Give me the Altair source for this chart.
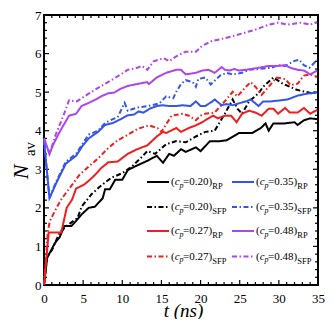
import altair as alt
import pandas as pd

# ---------------- data ----------------
SERIES = ["0.20 RP", "0.20 SFP", "0.27 RP", "0.27 SFP",
          "0.35 RP", "0.35 SFP", "0.48 RP", "0.48 SFP"]
CP_TEXT = ["=0.20)", "=0.20)", "=0.27)", "=0.27)", "=0.35)", "=0.35)", "=0.48)", "=0.48)"]
KIND = ["RP", "SFP", "RP", "SFP", "RP", "SFP", "RP", "SFP"]
COLORS = ["#000000", "#000000", "#F01E1E", "#F01E1E",
          "#3355EE", "#3355EE", "#B044F0", "#B044F0"]

t_020_rp = [0, 0.4, 0.75, 1.4, 2.0, 2.6, 3.5, 4.1, 4.8, 5.7, 6.5, 7.5, 7.8, 8.4, 9.1, 10.0, 10.7, 11.9,
            13.2, 14.4, 15.2, 16.0, 16.6, 17.5, 18.1, 19.4, 20.0, 21.2, 22.5, 23.3, 24.9, 26.6, 27.7,
            28.3, 28.7, 29.3, 30.8, 32.0, 32.4, 33.2, 34.0, 34.9]
n_020_rp = [0, 0.7, 0.84, 1.09, 1.24, 1.53, 1.53, 1.66, 1.83, 2.0, 2.03, 2.25, 2.48, 2.48, 2.73, 2.73,
            2.98, 3.1, 3.22, 3.35, 3.17, 3.4, 3.35, 3.52, 3.45, 3.57, 3.47, 3.73, 3.73, 3.75, 3.94,
            3.94, 4.07, 4.19, 4.0, 4.19, 4.19, 4.22, 4.15, 4.27, 4.32, 4.3]

t_020_sfp = [0, 0.4, 1.0, 2.0, 2.9, 4.3, 4.8, 6.1, 7.3, 8.6, 10.0, 11.2, 12.5, 13.2, 14.2, 15.6, 16.9,
             18.1, 19.4, 20.6, 21.8, 23.1, 24.1, 24.7, 25.3, 26.2, 27.4, 28.0, 29.3, 30.5, 32.3, 34.2, 34.9]
n_020_sfp = [0, 0.74, 0.9, 1.36, 1.53, 1.74, 2.03, 2.36, 2.58, 2.78, 2.9, 3.07, 3.32, 3.47, 3.4, 3.65,
             3.73, 3.7, 3.85, 3.97, 4.0, 4.44, 4.81, 4.57, 4.44, 4.76, 4.97, 5.14, 5.38, 5.22, 5.06,
             4.97, 5.0]

t_027_rp = [0, 0.6, 2.2, 2.9, 3.6, 4.1, 5.1, 5.7, 6.5, 7.3, 8.2, 9.4, 10.7, 11.9, 13.2, 14.4, 15.2, 15.6,
            16.9, 17.5, 18.5, 19.4, 20.2, 21.0, 21.6, 22.2, 23.1, 23.9, 24.6, 25.3, 26.2, 27.0, 27.8,
            28.7, 29.3, 29.9, 30.8, 31.4, 32.4, 33.2, 34.0, 34.9]
n_027_rp = [0, 1.36, 1.36, 2.0, 2.22, 2.5, 2.6, 2.7, 2.85, 3.03, 3.18, 3.2, 3.4, 3.52, 3.62, 3.85, 3.97,
            3.94, 4.07, 3.97, 4.07, 4.14, 4.22, 4.32, 4.39, 4.32, 4.39, 4.39, 4.22, 4.44, 4.52, 4.47,
            4.39, 4.57, 4.57, 4.44, 4.59, 4.47, 4.47, 4.59, 4.44, 4.54]

t_027_sfp = [0, 0.5, 0.75, 1.6, 2.3, 3.6, 4.5, 5.7, 7.0, 8.2, 9.4, 10.5, 12.0, 13.4, 14.5, 15.0, 16.3,
             17.7, 18.5, 19.4, 20.0, 20.6, 21.8, 23.3, 24.1, 24.7, 25.8, 26.4, 27.0, 27.8, 28.7, 29.7,
             30.8, 31.5, 32.4, 33.2, 34.0, 34.9]
n_027_sfp = [0, 1.4, 1.66, 2.0, 2.25, 2.6, 2.85, 3.07, 3.3, 3.55, 3.75, 3.87, 4.05, 4.14, 4.07, 3.97,
             4.39, 4.44, 4.39, 4.27, 4.39, 4.44, 4.47, 4.81, 5.01, 4.89, 5.14, 5.26, 5.14, 4.93, 5.14,
             5.38, 5.34, 5.18, 5.22, 5.43, 5.46, 5.4]

t_035_rp = [0, 0.7, 1.6, 2.8, 4.1, 4.9, 5.7, 6.9, 7.8, 8.8, 9.8, 10.7, 11.5, 12.1, 12.7, 13.5, 14.4,
            15.2, 16.0, 16.9, 17.7, 18.7, 19.4, 20.0, 20.6, 21.5, 21.8, 22.7, 23.3, 24.1, 24.9, 25.8,
            26.4, 27.0, 27.4, 28.0, 29.0, 30.3, 31.1, 32.4, 33.6, 34.9]
n_035_rp = [3.75, 2.25, 2.66, 3.15, 3.35, 3.6, 3.8, 3.97, 4.15, 4.2, 4.3, 4.4, 4.42, 4.5, 4.47, 4.57,
            4.64, 4.66, 4.64, 4.64, 4.66, 4.64, 4.76, 4.64, 4.64, 4.76, 4.81, 4.66, 4.69, 4.66, 4.71,
            4.76, 4.81, 4.71, 4.64, 4.76, 4.76, 4.79, 4.81, 4.91, 4.96, 4.99]

t_035_sfp = [0, 0.7, 1.6, 2.8, 4.1, 4.9, 5.7, 6.9, 7.8, 8.8, 9.4, 10.3, 10.7, 11.9, 13.2, 14.4, 14.8,
             15.6, 16.5, 16.9, 17.5, 18.1, 19.0, 19.4, 19.7, 20.6, 21.3, 22.5, 23.3, 24.1, 25.3, 26.2,
             27.4, 29.0, 29.9, 30.8, 32.0, 32.6, 33.2, 33.9, 34.9]
n_035_sfp = [3.75, 2.25, 2.7, 3.2, 3.4, 3.65, 3.9, 4.0, 4.2, 4.3, 4.35, 4.72, 4.52, 4.6, 4.64, 4.69,
             4.72, 4.89, 4.84, 5.01, 5.21, 5.31, 5.26, 5.14, 5.34, 5.38, 5.2, 5.43, 5.5, 5.46, 5.5,
             5.58, 5.6, 5.63, 5.7, 5.68, 5.81, 5.84, 5.7, 5.63, 5.84]

t_048_rp = [0, 0.7, 1.2, 2.0, 3.2, 4.1, 4.8, 5.7, 6.5, 7.4, 8.2, 9.0, 9.8, 10.7, 11.9, 13.2, 13.4, 14.4,
            15.6, 16.9, 17.5, 18.1, 19.4, 20.2, 21.0, 21.8, 22.7, 23.1, 23.7, 24.3, 24.9, 25.8, 27.4,
            28.7, 29.9, 30.8, 31.5, 32.4, 33.2, 34.0, 34.9]
n_048_rp = [3.8, 3.4, 3.65, 3.97, 4.39, 4.44, 4.64, 4.72, 4.8, 4.9, 4.97, 4.99, 5.09, 5.16, 5.21, 5.26,
            5.21, 5.38, 5.5, 5.58, 5.58, 5.46, 5.5, 5.56, 5.58, 5.5, 5.65, 5.58, 5.56, 5.6, 5.56, 5.58,
            5.63, 5.68, 5.68, 5.7, 5.63, 5.58, 5.56, 5.46, 5.56]

t_048_sfp = [0, 0.7, 1.5, 2.5, 3.2, 4.2, 5.7, 7.3, 8.6, 9.8, 10.7, 11.9, 12.5, 13.2, 14.0, 15.3, 16.0,
             16.9, 18.1, 19.4, 20.2, 21.5, 22.7, 24.1, 25.8, 27.0, 28.7, 29.9, 31.1, 32.8, 34.0, 34.9]
n_048_sfp = [3.8, 3.4, 3.9, 4.4, 4.79, 4.76, 4.96, 5.16, 5.31, 5.46, 5.58, 5.63, 5.68, 5.58, 5.8, 5.88,
             5.8, 5.93, 6.05, 6.05, 6.2, 6.33, 6.38, 6.45, 6.55, 6.62, 6.75, 6.8, 6.75, 6.8, 6.75, 6.82]

X_TICKS = [0, 5, 10, 15, 20, 25, 30, 35]
Y_TICKS = [0, 1, 2, 3, 4, 5, 6, 7]

# ---------------- build tables ----------------
pairs = [(t_020_rp, n_020_rp), (t_020_sfp, n_020_sfp), (t_027_rp, n_027_rp), (t_027_sfp, n_027_sfp),
         (t_035_rp, n_035_rp), (t_035_sfp, n_035_sfp), (t_048_rp, n_048_rp), (t_048_sfp, n_048_sfp)]
rows = []
for name, (ts, ns) in zip(SERIES, pairs):
    for t, n in zip(ts, ns):
        rows.append({"series": name, "t": t, "n": n})
df = pd.DataFrame(rows)

W, H = 274, 270
FONT = "Liberation Serif"
DASHES = [[1, 0], [5, 2.5, 1.5, 2.5]] * 4

xs = alt.Scale(domain=[0, 35], nice=False, zero=False)
ys = alt.Scale(domain=[0, 7], nice=False, zero=False)
cscale = alt.Scale(domain=SERIES, range=COLORS)
dscale = alt.Scale(domain=SERIES, range=DASHES)

lines = alt.Chart(df).mark_line(strokeWidth=2).encode(
    x=alt.X("t:Q", scale=xs, axis=alt.Axis(
        values=X_TICKS, ticks=False, domain=False, grid=False, labelFont=FONT, labelFontSize=13,
        labelColor="black", labelPadding=7, labelFlush=False, labelOverlap=False,
        title="t (ns)", titleFont=FONT, titleFontSize=19, titleFontStyle="italic",
        titleFontWeight="normal", titleColor="black", titleY=31, titleBaseline="alphabetic",
        titleX=139, titleAlign="center")),
    y=alt.Y("n:Q", scale=ys, axis=alt.Axis(
        values=Y_TICKS, ticks=False, domain=False, grid=False, labelFont=FONT, labelFontSize=13,
        labelColor="black", labelPadding=3, labelFlush=False, labelOverlap=False, title=None)),
    color=alt.Color("series:N", scale=cscale, legend=None),
    strokeDash=alt.StrokeDash("series:N", scale=dscale, legend=None),
)

# ---------------- inward ticks on all four sides ----------------
x_major = pd.DataFrame({"v": X_TICKS})
x_minor = pd.DataFrame({"v": [i for i in range(36) if i % 5]})
y_major = pd.DataFrame({"v": Y_TICKS})
y_minor = pd.DataFrame({"v": [k / 5 for k in range(36) if k % 5]})
MAJ, MIN = 5, 3


def xticks(d, L, top):
    y0 = 0 if top else H
    y1 = L if top else H - L
    return alt.Chart(d).mark_rule(color="black", strokeWidth=1.2).encode(
        x=alt.X("v:Q", scale=xs, axis=None), y=alt.value(y0), y2=alt.value(y1))


def yticks(d, L, right):
    x0 = W if right else 0
    x1 = W - L if right else L
    return alt.Chart(d).mark_rule(color="black", strokeWidth=1.2).encode(
        y=alt.Y("v:Q", scale=ys, axis=None), x=alt.value(x0), x2=alt.value(x1))


ticks = [xticks(x_major, MAJ, False), xticks(x_minor, MIN, False),
         xticks(x_major, MAJ, True), xticks(x_minor, MIN, True),
         yticks(y_major, MAJ, False), yticks(y_minor, MIN, False),
         yticks(y_major, MAJ, True), yticks(y_minor, MIN, True)]

# ---------------- legend (inside, bottom right, 2 columns) ----------------
COL_X = [103, 188]
ROW_Y = [167, 192, 216, 241.5]
LINE_LEN = 22
leg_rows = []
for i, name in enumerate(SERIES):
    c, r = divmod(i, 4)
    lx1 = COL_X[c]
    leg_rows.append({"series": name, "lx1": lx1, "lx2": lx1 + LINE_LEN, "tx": lx1 + LINE_LEN + 2,
                     "ly": ROW_Y[r], "eq": CP_TEXT[i], "kind": KIND[i]})
leg = pd.DataFrame(leg_rows)
lxs = alt.Scale(domain=[0, W], nice=False, zero=False)
lys = alt.Scale(domain=[0, H], range=[0, H], nice=False, zero=False)

leg_lines = alt.Chart(leg).mark_rule(strokeWidth=2).encode(
    x=alt.X("lx1:Q", scale=lxs, axis=None), x2="lx2:Q",
    y=alt.Y("ly:Q", scale=lys, axis=None),
    color=alt.Color("series:N", scale=cscale, legend=None),
    strokeDash=alt.StrokeDash("series:N", scale=dscale, legend=None),
)


def leg_text(text, dx, dy=0, size=11, style="normal"):
    return alt.Chart(leg).mark_text(align="left", baseline="middle", font=FONT, fontSize=size,
                                    fontStyle=style, color="black", dx=dx, dy=dy).encode(
        x=alt.X("tx:Q", scale=lxs, axis=None), y=alt.Y("ly:Q", scale=lys, axis=None), text=text)


leg_texts = [
    leg_text(alt.value("("), 0),
    leg_text(alt.value("c"), 3.7, style="italic"),
    leg_text(alt.value("p"), 8.6, dy=3.5, size=8, style="italic"),
    leg_text("eq:N", 12),
    leg_text("kind:N", 41.3, dy=4, size=8.5),
]

# ---------------- y title: N with subscript av ----------------
one = pd.DataFrame({"a": [0]})
n_title = alt.Chart(one).mark_text(font=FONT, fontSize=22, fontStyle="italic", angle=270,
                                   align="center", baseline="alphabetic", color="black").encode(
    x=alt.value(-16), y=alt.value(157), text=alt.value("N"))
av_title = alt.Chart(one).mark_text(font=FONT, fontSize=15, angle=270,
                                    align="center", baseline="alphabetic", color="black").encode(
    x=alt.value(-9), y=alt.value(134), text=alt.value("av"))

chart = alt.layer(*ticks, lines, leg_lines, *leg_texts, n_title, av_title).resolve_scale(
    x="independent", y="independent"
).properties(
    width=W, height=H,
    autosize=alt.AutoSizeParams(type="none"),
    padding={"left": 36, "top": 7, "right": 7, "bottom": 34},
    background="white",
).configure_view(stroke="black", strokeWidth=2)

chart.save("out.html", embed_options={"renderer": "svg", "actions": False})
